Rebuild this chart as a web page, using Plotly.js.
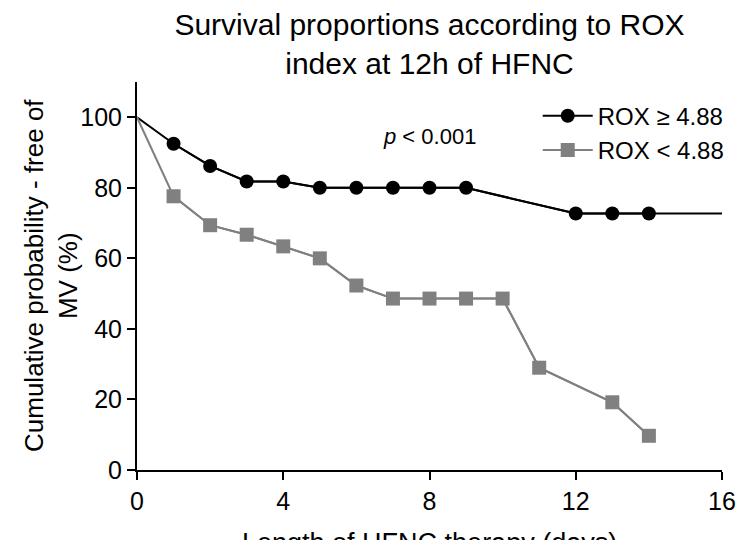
<!DOCTYPE html>
<html>
<head>
<meta charset="utf-8">
<script src="https://cdn.plot.ly/plotly-3.0.1.min.js"></script>
<style>html,body{margin:0;padding:0;background:#fff;}#chart{width:743px;height:540px;}</style>
</head>
<body>
<div id="chart"></div>
<script>
// Kaplan-Meier style survival proportions
var startDay = 0;
var startPct = 100;

var hiDays = [1, 2, 3, 4, 5, 6, 7, 8, 9, 12, 13, 14];
var hiPct  = [92.5, 86.2, 81.8, 81.8, 80.0, 80.0, 80.0, 80.0, 80.0, 72.7, 72.7, 72.7];
var hiEndDay = 16;
var hiEndPct = 72.7;

var loDays = [1, 2, 3, 4, 5, 6, 7, 8, 9, 10, 11, 13, 14];
var loPct  = [77.6, 69.4, 66.7, 63.4, 60.0, 52.3, 48.6, 48.6, 48.6, 48.6, 29.0, 19.2, 9.7];

var xTicks = [0, 4, 8, 12, 16];
var yTicks = [0, 20, 40, 60, 80, 100];

var hiName = 'ROX ≥ 4.88';
var loName = 'ROX < 4.88';
var xTitle = 'Length of HFNC therapy (days)';
var yTitle = 'Cumulative probability - free of<br>MV (%)';

var FONT = 'Liberation Sans, Arial, Helvetica, sans-serif';
var BLACK = '#000000';
var GRAY = '#808080';

var traces = [
  { x: [startDay].concat(hiDays, [hiEndDay]), y: [startPct].concat(hiPct, [hiEndPct]),
    mode: 'lines', line: {color: BLACK, width: 2}, showlegend: false, hoverinfo: 'skip' },
  { x: [startDay].concat(loDays), y: [startPct].concat(loPct),
    mode: 'lines', line: {color: GRAY, width: 2}, showlegend: false, hoverinfo: 'skip' },
  { x: hiDays, y: hiPct, name: hiName, mode: 'lines+markers',
    line: {color: BLACK, width: 2}, marker: {color: BLACK, size: 14, symbol: 'circle'} },
  { x: loDays, y: loPct, name: loName, mode: 'lines+markers',
    line: {color: GRAY, width: 2}, marker: {color: GRAY, size: 14, symbol: 'square'} }
];

var layout = {
  width: 743, height: 540,
  paper_bgcolor: '#ffffff', plot_bgcolor: '#ffffff',
  font: {family: FONT, color: '#000', size: 25},
  margin: {l: 137, r: 21, t: 82, b: 70},
  title: {text: 'Survival proportions according to ROX<br>index at 12h of HFNC',
          font: {size: 30, family: FONT, color: '#000'},
          x: 0.5, xref: 'paper', xanchor: 'center', y: 0.936, yref: 'container', yanchor: 'top'},
  xaxis: {range: [0, 16], tickvals: xTicks, ticktext: xTicks.map(String),
          showgrid: false, zeroline: false, showline: true, linecolor: '#000', linewidth: 2,
          ticks: 'outside', ticklen: 8, tickwidth: 2, tickcolor: '#000',
          tickfont: {size: 25, family: FONT},
          automargin: false, fixedrange: true},
  yaxis: {range: [0, 110], tickvals: yTicks, ticktext: yTicks.map(String),
          showgrid: false, zeroline: false, showline: true, linecolor: '#000', linewidth: 2,
          ticks: 'outside', ticklen: 8, tickwidth: 2, tickcolor: '#000',
          tickfont: {size: 25, family: FONT},
          automargin: false, fixedrange: true},
  legend: {x: 0.685, xanchor: 'left', y: 0.97, yanchor: 'top', bgcolor: 'rgba(0,0,0,0)',
           font: {size: 24, family: FONT}, itemwidth: 50, traceorder: 'normal'},
  annotations: [
    {x: 8, y: 94.5, xref: 'x', yref: 'y', text: '<i>p</i> &lt; 0.001', showarrow: false,
     font: {size: 22, family: FONT, color: '#000'}, xanchor: 'center', yanchor: 'middle'},
    {x: 0.5, y: -0.188, xref: 'paper', yref: 'paper', text: xTitle, showarrow: false,
     font: {size: 27, family: FONT, color: '#000'}, xanchor: 'center', yanchor: 'middle'},
    {x: -0.147, y: 0.5, xref: 'paper', yref: 'paper', text: yTitle, showarrow: false, textangle: -90,
     font: {size: 26, family: FONT, color: '#000'}, xanchor: 'center', yanchor: 'middle'}
  ],
  showlegend: true
};

Plotly.newPlot('chart', traces, layout, {staticPlot: true, displayModeBar: false});
</script>
</body>
</html>
